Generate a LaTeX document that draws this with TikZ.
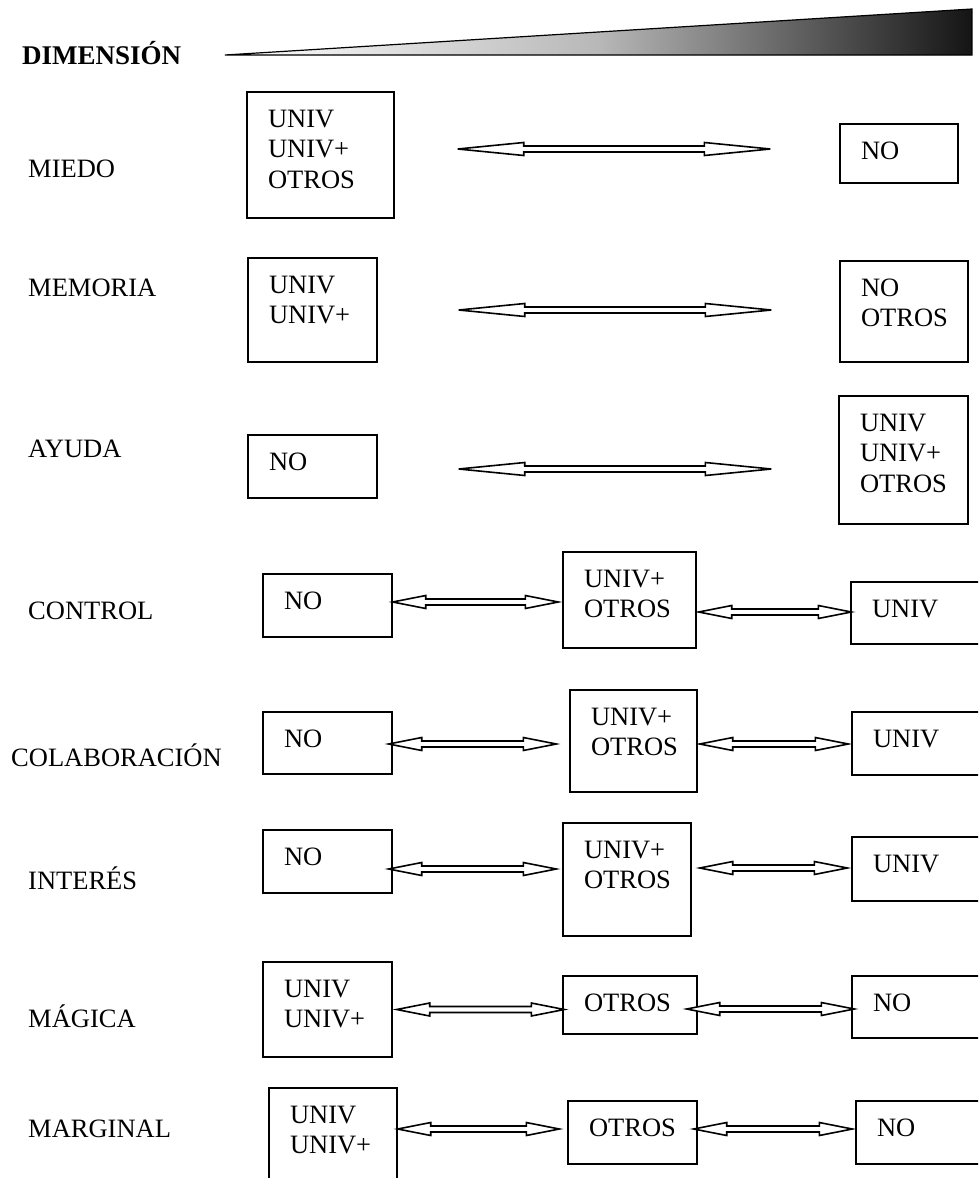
\documentclass[tikz,border=0pt]{standalone}
\usepackage{fontspec}
\setmainfont{Liberation Serif}
\usetikzlibrary{calc}
\begin{document}
\begin{tikzpicture}[x=1pt,y=-1pt,
  every node/.style={font=\fontsize{26.5}{30.5}\selectfont},
  rowlabel/.style={anchor=base west, inner sep=0pt},
  % framed box: #1 = text width, #2 = depth below the first baseline
  box/.style 2 args={draw, line width=1.4pt, inner xsep=21pt, inner ysep=0pt,
    align=left, text width=#1, text height=35pt, text depth=#2},
  % hollow double-headed arrow, #1 = head length
  dblarrow/.style={line width=1.6pt, fill=white, line join=miter,
    to path={let \p1=(\tikztostart), \p2=(\tikztotarget) in
      (\x1,\y1) -- (\x1+#1,\y1+6.5pt) -- (\x1+#1,\y1+3pt) -- (\x2-#1,\y1+3pt)
      -- (\x2-#1,\y1+6.5pt) -- (\x2,\y1) -- (\x2-#1,\y1-6.5pt) -- (\x2-#1,\y1-3pt)
      -- (\x1+#1,\y1-3pt) -- (\x1+#1,\y1-6.5pt) -- cycle}}
]
\useasboundingbox (0,0) rectangle (978,1178);
\fill[white] (0,0) rectangle (978,1178);
\clip (0,0) rectangle (978,1178);

% heading and intensity wedge
\node[rowlabel, font=\fontsize{27}{30.5}\selectfont\bfseries] (dim) at (22,64) {DIMENSIÓN};
\shade[left color=white, right color=black!92, middle color=black!28]
  (225,55) -- (972,9) -- (972,55) -- cycle;
\draw[line width=1.2pt, line join=miter] (225,55) -- (972,9) -- (972,55) -- cycle;

% row labels
\node[rowlabel] (lmiedo)   at (28,177)  {MIEDO};
\node[rowlabel] (lmemoria) at (28,296)  {MEMORIA};
\node[rowlabel] (layuda)   at (28,457)  {AYUDA};
\node[rowlabel] (lcontrol) at (28,619)  {CONTROL};
\node[rowlabel] (lcolab)   at (11,766)  {COLABORACIÓN};
\node[rowlabel] (linteres) at (28,889)  {INTERÉS};
\node[rowlabel] (lmagica)  at (28,1027) {MÁGICA};
\node[rowlabel] (lmarg)    at (28,1137) {MARGINAL};

% boxes
\node[box={105pt}{91pt}] (m1a) at (320.5,155)   {UNIV\\UNIV+\\OTROS};
\node[box={76pt}{24pt}]  (m1b) at (899,153.5)   {NO};
\node[box={87pt}{69pt}]  (m2a) at (312.5,310)   {UNIV\\UNIV+};
\node[box={86pt}{66pt}]  (m2b) at (904,311.5)   {NO\\OTROS};
\node[box={87pt}{28pt}]  (m3a) at (312.5,466.5) {NO};
\node[box={87pt}{93pt}]  (m3b) at (903.5,460)   {UNIV\\UNIV+\\OTROS};

\node[box={87pt}{28pt}]  (r4a) at (327.5,605.5) {NO};
\node[box={91pt}{61pt}]  (r4b) at (629.5,600)   {UNIV+\\OTROS};
\node[box={107pt}{27pt}] (r4c) at (925.5,613)   {UNIV};

\node[box={87pt}{27pt}]  (r5a) at (327.5,743)   {NO};
\node[box={85pt}{67pt}]  (r5b) at (633.5,741)   {UNIV+\\OTROS};
\node[box={106pt}{28pt}] (r5c) at (926,743.5)   {UNIV};

\node[box={87pt}{28pt}]  (r6a) at (327.5,861.5) {NO};
\node[box={86pt}{78pt}]  (r6b) at (627,879.5)   {UNIV+\\OTROS};
\node[box={106pt}{29pt}] (r6c) at (926,869)     {UNIV};

\node[box={87pt}{60pt}]  (r7a) at (327.5,1009.5) {UNIV\\UNIV+};
\node[box={92pt}{23pt}]  (r7b) at (630,1005)     {OTROS};
\node[box={106pt}{27pt}] (r7c) at (926,1007)     {NO};

\node[box={86pt}{77pt}]  (r8a) at (333,1144)     {UNIV\\UNIV+};
\node[box={87pt}{28pt}]  (r8b) at (632.5,1132.5) {OTROS};
\node[box={102pt}{28pt}] (r8c) at (928,1132.5)   {NO};

% connectors
\draw[dblarrow=66pt] ([shift={(63,-6)}]m1a.east) to ([shift={(-69,0)}]m1b.west);
\draw[dblarrow=66pt] ([shift={(81,0)}]m2a.east)  to ([shift={(-68,0)}]m2b.west);
\draw[dblarrow=66pt] ([shift={(81,2.5)}]m3a.east) to ([shift={(-67,0)}]m3b.west);

\draw[dblarrow=33pt] ([shift={(0,-3.5)}]r4a.east) to ([shift={(-4,0)}]r4b.west);
\draw[dblarrow=33pt] ([shift={(2,12)}]r4b.east)   to ([shift={(1,0)}]r4c.west);
\draw[dblarrow=33pt] ([shift={(-4,1)}]r5a.east)   to ([shift={(-13,0)}]r5b.west);
\draw[dblarrow=33pt] ([shift={(2,3)}]r5b.east)    to ([shift={(-3,0)}]r5c.west);
\draw[dblarrow=33pt] ([shift={(-4,7.5)}]r6a.east) to ([shift={(-6,0)}]r6b.west);
\draw[dblarrow=33pt] ([shift={(8,-11.5)}]r6b.east) to ([shift={(-4,0)}]r6c.west);
\draw[dblarrow=33pt] ([shift={(4,0)}]r7a.east)    to ([shift={(2,0)}]r7b.west);
\draw[dblarrow=33pt] ([shift={(-11,4)}]r7b.east)  to ([shift={(3,0)}]r7c.west);
\draw[dblarrow=33pt] ([shift={(0,-15)}]r8a.east)  to ([shift={(-8,0)}]r8b.west);
\draw[dblarrow=33pt] ([shift={(-4,-3.5)}]r8b.east) to ([shift={(-3,0)}]r8c.west);
\end{tikzpicture}
\end{document}
